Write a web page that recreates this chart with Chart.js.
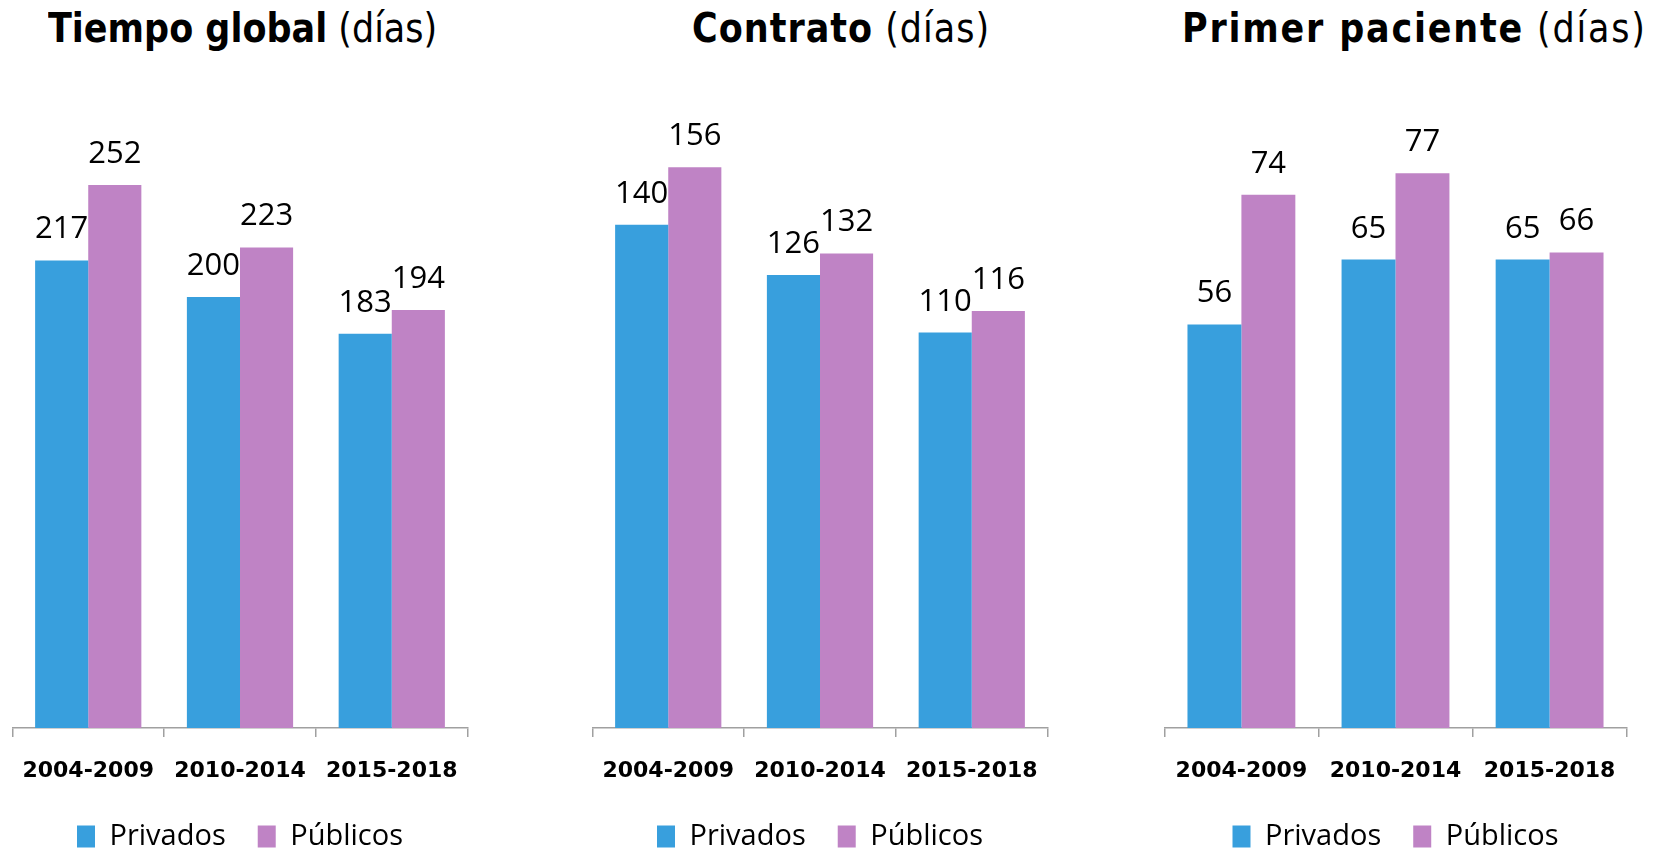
<!DOCTYPE html>
<html>
<head>
<meta charset="utf-8">
<script src="https://cdn.jsdelivr.net/npm/chart.js@4.4.1/dist/chart.umd.min.js"></script>
<style>
  html, body { margin: 0; padding: 0; background: #fff; }
  body { width: 1667px; height: 851px; overflow: hidden; position: relative; }
  .title {
    position: absolute; top: 13px; white-space: nowrap;
    font-family: "DejaVu Sans", Verdana, sans-serif; font-size: 35px; line-height: 35px;
    color: #000; transform: scaleY(1.18); transform-origin: 0 29px;
  }
  .panel { position: absolute; top: 0; }
</style>
</head>
<body>
<div class="title" style="left:48px"><b>Tiempo global</b> (días)</div>
<div class="title" style="left:692px;letter-spacing:1px"><b>Contrato</b> (días)</div>
<div class="title" style="left:1182px;letter-spacing:1.8px"><b>Primer paciente</b> (días)</div>

<div class="panel" style="left:3px;width:474px;height:861px"><canvas id="c0"></canvas></div>
<div class="panel" style="left:583px;width:474px;height:861px"><canvas id="c1"></canvas></div>
<div class="panel" style="left:1156px;width:479px;height:861px"><canvas id="c2"></canvas></div>

<script>
  // ============= DATA =============
  const periods = ['2004-2009', '2010-2014', '2015-2018'];
  const seriesNames = ['Privados', 'Públicos'];

  const globalPrivados = [217, 200, 183];
  const globalPublicos = [252, 223, 194];

  const contratoPrivados = [140, 126, 110];
  const contratoPublicos = [156, 132, 116];

  const pacientePrivados = [56, 65, 65];
  const pacientePublicos = [74, 77, 66];

  // top of each value axis (days)
  const yMax = [310, 185.8, 92.7];

  const BLUE = '#389FDD';
  const PURPLE = '#BF83C5';

  // value labels above each bar
  const valueLabels = {
    id: 'valueLabels',
    afterDatasetsDraw(chart) {
      const ctx = chart.ctx;
      ctx.save();
      ctx.font = '31px "Open Sans", sans-serif';
      ctx.fillStyle = '#000';
      ctx.textAlign = 'center';
      ctx.textBaseline = 'alphabetic';
      chart.data.datasets.forEach((ds, i) => {
        chart.getDatasetMeta(i).data.forEach((bar, j) => {
          ctx.fillText(String(ds.data[j]), bar.x, bar.y - 22);
        });
      });
      ctx.restore();
    }
  };

  function makeChart(id, privados, publicos, max) {
    new Chart(document.getElementById(id), {
      type: 'bar',
      data: {
        labels: periods,
        datasets: [
          { label: seriesNames[0], data: privados, backgroundColor: BLUE, borderWidth: 0 },
          { label: seriesNames[1], data: publicos, backgroundColor: PURPLE, borderWidth: 0 }
        ]
      },
      options: {
        responsive: true,
        maintainAspectRatio: false,
        animation: false,
        categoryPercentage: 0.7,
        barPercentage: 1.0,
        layout: { padding: { top: 60, left: 0, right: 0, bottom: 0 } },
        plugins: {
          tooltip: { enabled: false },
          title: { display: false },
          legend: {
            position: 'bottom',
            labels: {
              font: { family: '"Open Sans", sans-serif', size: 29 },
              color: '#000',
              boxWidth: 18,
              boxHeight: 22,
              padding: 32
            }
          }
        },
        scales: {
          x: {
            grid: { display: true, drawOnChartArea: false, drawTicks: true, tickLength: 9, color: '#a0a0a0', lineWidth: 1.5, offset: true },
            border: { display: true, color: '#a0a0a0', width: 1.5 },
            ticks: {
              color: '#000',
              padding: 21,
              font: { family: '"DejaVu Sans", Verdana, sans-serif', size: 22, weight: 'bold' }
            },
            afterFit(scale) { scale.height = 62; }
          },
          y: {
            display: false,
            min: 0,
            max: max
          }
        }
      },
      plugins: [valueLabels]
    });
  }

  makeChart('c0', globalPrivados, globalPublicos, yMax[0]);
  makeChart('c1', contratoPrivados, contratoPublicos, yMax[1]);
  makeChart('c2', pacientePrivados, pacientePublicos, yMax[2]);
</script>
</body>
</html>
